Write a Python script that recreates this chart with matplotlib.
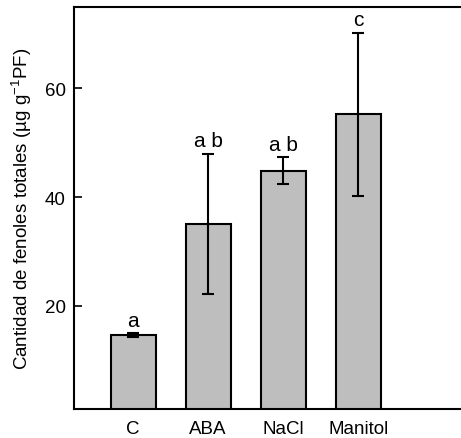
import matplotlib
matplotlib.use("Agg")
import matplotlib.pyplot as plt

# data
treatments = ['C', 'ABA', 'NaCl', 'Manitol']
means = [14.6, 35.1, 44.9, 55.3]
errors = [0.3, 12.9, 2.4, 15.0]
letters = ['a', 'a b', 'a b', 'c']

plt.rcParams['font.family'] = ['Liberation Sans', 'DejaVu Sans']
plt.rcParams['font.size'] = 13.5

fig = plt.figure(figsize=(4.61, 4.39), dpi=100)
ax = fig.add_axes([74 / 461, 1 - 410 / 439, 1 - 74 / 461, (410 - 8) / 439])

x = list(range(1, len(treatments) + 1))
ax.bar(x, means, width=0.6, color='#bebebe', edgecolor='black', linewidth=1.5,
       yerr=errors, capsize=4.5, error_kw={'elinewidth': 1.5, 'capthick': 1.5})

# significance letters above the error bars
for xi, m, e, lab in zip(x, means, errors, letters):
    ax.text(xi, m + e + 0.6, lab, ha='center', va='bottom', fontsize=15)

ax.set_xlim(0.213, 5.37)
ax.set_ylim(1, 75)
ax.set_yticks([20, 40, 60])
ax.set_xticks(x)
ax.set_xticklabels(treatments)
ax.tick_params(axis='y', direction='in', length=6, width=1.2, pad=6)
ax.tick_params(axis='x', length=0, pad=8)
ax.spines['right'].set_visible(False)
for s in ['left', 'top', 'bottom']:
    ax.spines[s].set_linewidth(1.5)

ax.set_ylabel('Cantidad de fenoles totales (µg g$^{\\mathregular{-1}}$PF)', labelpad=8)

fig.savefig('out.png', dpi=100)
